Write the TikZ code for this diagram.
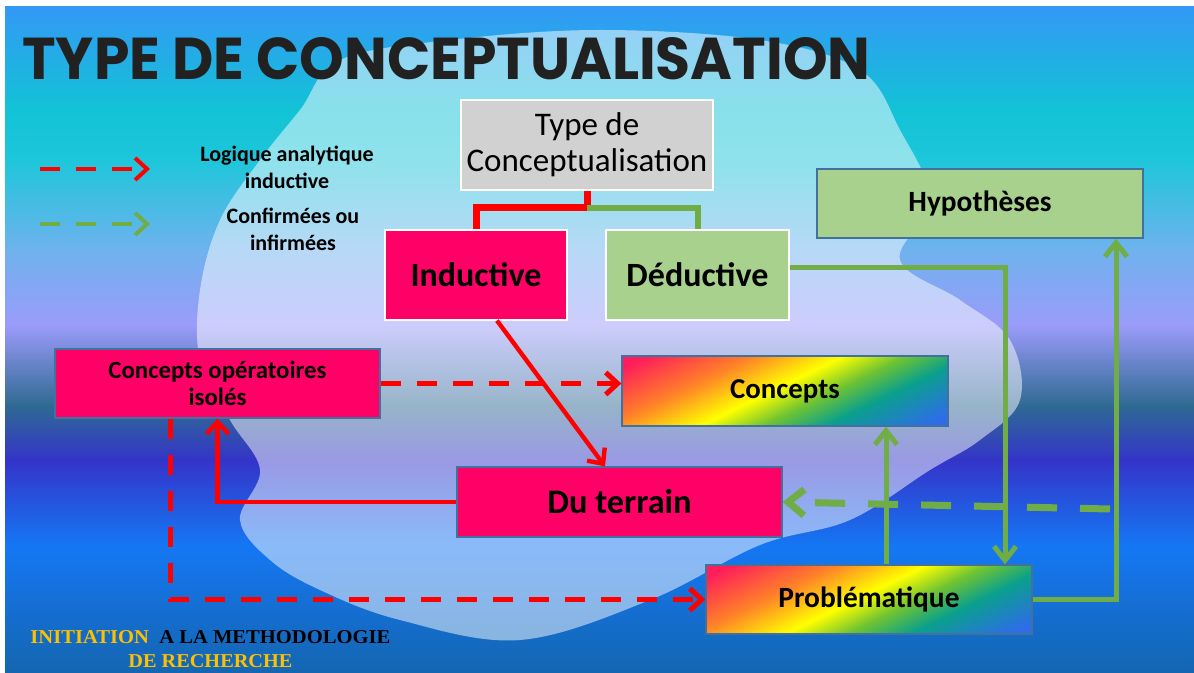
\documentclass[tikz,border=0pt]{standalone}
\usepackage{fontspec}
\setmainfont{Carlito}
\newfontfamily\titlefont{Poppins}
\newfontfamily\footfont{Liberation Serif}
\usetikzlibrary{arrows.meta,positioning,calc}
\definecolor{pinkbox}{RGB}{255,0,102}
\definecolor{greenbox}{RGB}{169,209,142}
\definecolor{greyline}{RGB}{112,173,71}
\definecolor{slate}{RGB}{65,113,156}
\definecolor{footyellow}{RGB}{255,192,0}
\definecolor{bgA}{RGB}{51,153,245}
\definecolor{bgB}{RGB}{18,195,214}
\definecolor{bgC}{RGB}{30,198,218}
\definecolor{bgD}{RGB}{111,178,238}
\definecolor{bgE}{RGB}{155,155,250}
\definecolor{bgF}{RGB}{47,106,146}
\definecolor{bgG}{RGB}{52,52,201}
\definecolor{bgH}{RGB}{21,119,244}
\definecolor{bgI}{RGB}{20,102,176}
\definecolor{rbpink}{RGB}{255,30,90}
\definecolor{rborange}{RGB}{255,130,40}
\definecolor{rbyellow}{RGB}{255,255,0}
\definecolor{rbgreen}{RGB}{110,195,50}
\definecolor{rbteal}{RGB}{10,160,140}
\definecolor{rbblue}{RGB}{45,110,230}
\pgfdeclarehorizontalshading{rainbow}{100bp}{color(0bp)=(rbpink); color(20bp)=(rbpink); color(35bp)=(rborange); color(48bp)=(rbyellow); color(57bp)=(rbgreen); color(66bp)=(rbteal); color(80bp)=(rbblue); color(100bp)=(rbblue)}
\tikzset{
  box/.style={draw, inner sep=0pt, align=center, text=black},
  pinkbox/.style={box, fill=pinkbox, draw=slate, line width=0.6pt},
  greenbox/.style={box, fill=greenbox, draw=slate, line width=0.6pt},
  rainbowbox/.style={box, shading=rainbow, shading angle=-64, draw=slate, line width=0.6pt},
  redarrow/.style={red, line width=2.2pt, -{Straight Barb[length=6pt,width=11pt]}},
  reddash/.style={red, line width=2.5pt, dash pattern=on 10pt off 8pt, -{Straight Barb[length=6pt,width=11pt]}},
  greenarrow/.style={greyline, line width=2.5pt, -{Straight Barb[length=7pt,width=11pt]}},
  greendash/.style={greyline, line width=3.5pt, dash pattern=on 15pt off 11.5pt, -{Straight Barb[length=8pt,width=13pt]}}
}

\begin{document}
\begin{tikzpicture}[x=0.5pt,y=-0.5pt]
  \useasboundingbox (0,0) rectangle (1194,673);
  \fill[white] (0,0) rectangle (1194,673);

  % background bands
  \shade[top color=bgA, bottom color=bgB] (5,7) rectangle (1194,111);
  \shade[top color=bgB, bottom color=bgC] (5,110) rectangle (1194,161);
  \shade[top color=bgC, bottom color=bgD] (5,160) rectangle (1194,251);
  \shade[top color=bgD, bottom color=bgE] (5,250) rectangle (1194,326);
  \shade[top color=bgE, bottom color=bgF] (5,325) rectangle (1194,406);
  \shade[top color=bgF, bottom color=bgG] (5,405) rectangle (1194,461);
  \shade[top color=bgG, bottom color=bgH] (5,460) rectangle (1194,546);
  \shade[top color=bgH, bottom color=bgI] (5,545) rectangle (1194,673);

  % splash
  \fill[white, opacity=0.5] plot[smooth cycle, tension=0.6] coordinates {
    (300,110) (340,60) (450,40) (600,30) (760,40) (860,70) (900,130)
    (930,200) (900,260) (960,300) (1010,340) (1020,400) (980,440) (930,470)
    (850,520) (760,545) (650,600) (520,640) (400,620) (320,590) (270,560)
    (240,520) (260,470) (230,420) (200,360) (200,290) (220,220) (260,160)};

  % title and footer
  \node[anchor=base west, inner sep=0pt, text=black!87] (title) at (22,80)
    {\resizebox{424pt}{21pt}{\titlefont\bfseries TYPE DE CONCEPTUALISATION}};
  \node[anchor=base west, inner sep=0pt] (foot1) at (30,643)
    {\resizebox{180pt}{6.5pt}{\footfont\bfseries\textcolor{footyellow}{INITIATION}\ \ A LA METHODOLOGIE}};
  \node[anchor=base west, inner sep=0pt, text=footyellow] (foot2) at (128,667)
    {\resizebox{82pt}{6.5pt}{\footfont\bfseries DE RECHERCHE}};

  % boxes
  \node[box, fill=black!18, draw=white, line width=1pt, minimum width=126pt, minimum height=45pt,
    font=\fontsize{16.5}{18}\selectfont] (type) at (587,145) {Type de\\Conceptualisation};
  \node[pinkbox, draw=white, minimum width=91pt, minimum height=45pt,
    font=\fontsize{17}{20}\selectfont\bfseries] (ind) at (476,275) {Inductive};
  \node[greenbox, draw=white, minimum width=91.5pt, minimum height=45pt,
    font=\fontsize{17}{20}\selectfont\bfseries] (ded) at (697.5,275) {Déductive};
  \node[greenbox, minimum width=163pt, minimum height=34.5pt,
    font=\fontsize{14.7}{17}\selectfont\bfseries] (hyp) at (980,203.5) {Hypothèses};
  \node[pinkbox, minimum width=162.5pt, minimum height=34.5pt,
    font=\fontsize{12.4}{13.5}\selectfont\bfseries] (cop) at (217.5,383.5) {Concepts opératoires\\isolés};
  \node[rainbowbox, minimum width=163pt, minimum height=35pt,
    font=\fontsize{14.4}{17}\selectfont\bfseries] (conc) at (785,391) {Concepts};
  \node[pinkbox, minimum width=162.5pt, minimum height=35pt,
    font=\fontsize{17.2}{20}\selectfont\bfseries] (terr) at (619.5,502) {Du terrain};
  \node[rainbowbox, minimum width=163pt, minimum height=34.5pt,
    font=\fontsize{14.7}{17}\selectfont\bfseries] (prob) at (869,599.5) {Problématique};

  % legend
  \coordinate (lr1) at (40,169);
  \coordinate (lr2) at (150,169);
  \coordinate (lg1) at (40,224);
  \coordinate (lg2) at (150,224);
  \draw[reddash, line width=2pt] (lr1) -- (lr2);
  \draw[greendash, line width=2pt, dash pattern=on 10pt off 8pt,
    -{Straight Barb[length=6pt,width=11pt]}] (lg1) -- (lg2);
  \node[align=center, font=\fontsize{11}{13.5}\selectfont\bfseries] (lgred) at (287,167)
    {Logique analytique\\inductive};
  \node[align=center, font=\fontsize{11}{13.5}\selectfont\bfseries] (lggreen) at (293,229)
    {Confirmées ou\\infirmées};

  % tree
  \coordinate (split) at (587,208);
  \draw[red, line width=3.5pt] (type.south) -- (split) -| (ind.north);
  \draw[greyline, line width=3pt] (split) -| (ded.north);

  % inductive side
  \draw[redarrow] ([xshift=10.5pt]ind.south) -- ([xshift=-7.25pt]terr.north);
  \draw[redarrow] (terr.west) -| (cop.south);
  \draw[reddash] (cop.east) -- (cop.east -| conc.west);
  \draw[reddash] ([xshift=-23.75pt]cop.south) |- (prob.west);

  % deductive side
  \draw[greenarrow] ([yshift=3.5pt]ded.east) -| ([xshift=68pt]prob.north);
  \draw[greenarrow] (prob.east) -| ([xshift=68pt]hyp.south);
  \draw[greenarrow] ([xshift=8.5pt]prob.north) -- ([xshift=50.5pt]conc.south);
  \coordinate (gdash) at (1110,509);
  \draw[greendash] (gdash) -- (terr.east);
\end{tikzpicture}
\end{document}
